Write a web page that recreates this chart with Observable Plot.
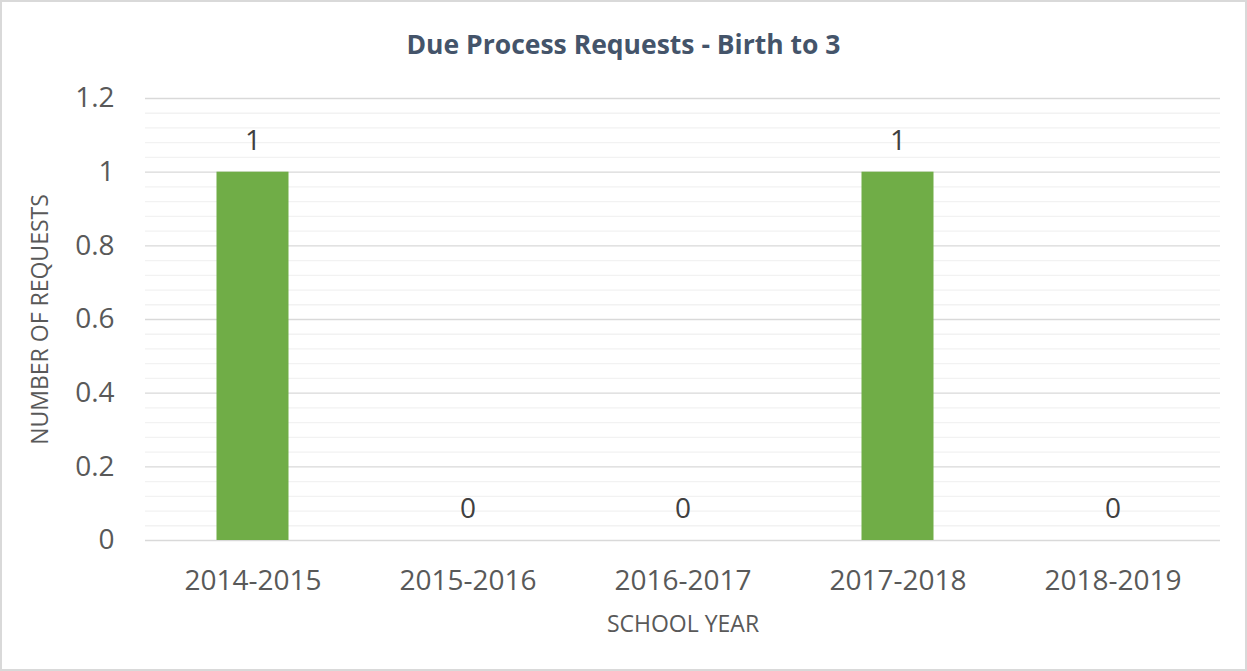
<!DOCTYPE html>
<html>
<head>
<meta charset="utf-8">
<script src="https://cdn.jsdelivr.net/npm/d3@7"></script>
<script src="https://cdn.jsdelivr.net/npm/@observablehq/plot@0.6"></script>
<style>
  html, body { margin: 0; padding: 0; background: #fff; }
  #wrap { position: relative; width: 1247px; height: 671px; overflow: hidden; background: #fff; }
  #border { position: absolute; left: 0; top: 0; width: 1247px; height: 671px; box-sizing: border-box; border: 2px solid #d9d9d9; pointer-events: none; }
  #title { height: 80px; width: 1247px; box-sizing: border-box; padding-top: 27px; text-align: center; font-family: "Open Sans", sans-serif; font-weight: bold; font-size: 26.5px; line-height: 34px; color: #44546a; }
  svg { display: block; }
</style>
</head>
<body>
<div id="wrap">
  <div id="title">Due Process Requests - Birth to 3</div>
  <div id="chart"></div>
  <div id="border"></div>
</div>
<script>
const years = ["2014-2015", "2015-2016", "2016-2017", "2017-2018", "2018-2019"];
const requests = [1, 0, 0, 1, 0];
const yTicks = [0, 0.2, 0.4, 0.6, 0.8, 1, 1.2];
const yTickLabels = ["0", "0.2", "0.4", "0.6", "0.8", "1", "1.2"];
const yMinor = [0.04, 0.08, 0.12, 0.16, 0.24, 0.28, 0.32, 0.36, 0.44, 0.48, 0.52, 0.56, 0.64, 0.68, 0.72, 0.76, 0.84, 0.88, 0.92, 0.96, 1.04, 1.08, 1.12, 1.16];
const xTitle = "SCHOOL YEAR";
const yTitle = "NUMBER OF REQUESTS";

const data = years.map((y, i) => ({year: y, value: requests[i]}));
const font = '"Open Sans", sans-serif';

const chart = Plot.plot({
  width: 1247,
  height: 591,
  marginLeft: 145,
  marginRight: 27,
  marginTop: 18,
  marginBottom: 131,
  style: { fontFamily: font, background: "transparent", overflow: "visible" },
  x: { domain: years, padding: 0, label: null },
  y: { domain: [0, 1.2], label: null },
  marks: [
    Plot.ruleY(yMinor, { stroke: "#f2f2f2", strokeWidth: 1.3 }),
    Plot.ruleY(yTicks, { stroke: "#d9d9d9", strokeWidth: 1.3 }),
    Plot.barY(data, { x: "year", y: "value", fill: "#70ad47", insetLeft: 71.5, insetRight: 71.5 }),
    Plot.text(data, { x: "year", y: "value", text: d => String(d.value), dy: -31, lineAnchor: "middle", fontSize: 28, fill: "#404040" }),
    Plot.axisY({ ticks: yTicks, tickFormat: (d) => yTickLabels[yTicks.indexOf(d)], tickSize: 0, tickPadding: 31, fontSize: 28, color: "#595959", label: null }),
    Plot.axisX({ tickSize: 0, tickPadding: 30, fontSize: 28, color: "#595959", label: null }),
    Plot.text([xTitle], { frameAnchor: "bottom", text: d => d, dy: 84, lineAnchor: "middle", textAnchor: "middle", fontSize: 23, fill: "#595959" }),
    Plot.text([yTitle], { frameAnchor: "left", text: d => d, rotate: -90, dx: -105, lineAnchor: "middle", textAnchor: "middle", fontSize: 23, fill: "#595959" })
  ]
});
document.getElementById("chart").appendChild(chart);
</script>
</body>
</html>
